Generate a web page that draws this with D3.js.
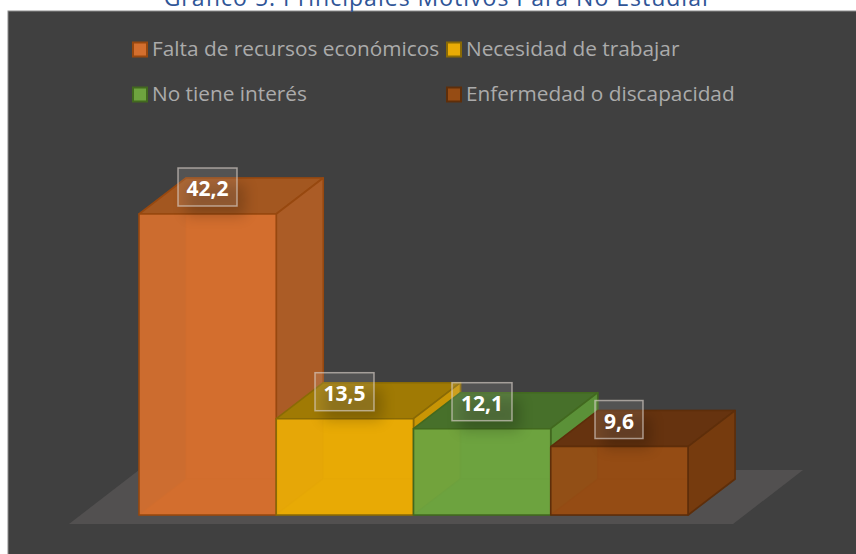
<!DOCTYPE html>
<html><head><meta charset="utf-8">
<script src="https://cdn.jsdelivr.net/npm/d3@7"></script>
<style>html,body{margin:0;padding:0;background:#fff;overflow:hidden}svg{display:block}</style>
</head><body><svg id="c" width="856" height="554"></svg>
<script>
const titleText = "Gráfico 5: Principales Motivos Para No Estudiar";
const categories = ["Falta de recursos económicos","Necesidad de trabajar","No tiene interés","Enfermedad o discapacidad"];
const values = [42.2,13.5,12.1,9.6];
const labels = ["42,2","13,5","12,1","9,6"];
const fills = ["#d46f2e","#e9ab05","#6ea33f","#964c14"];
const strokes = ["#97480f","#8a6a05","#42691f","#5e2e0a"];
const tops = ["#a35720","#a07a04","#47702a","#66330f"];
const sides = ["#ab5c26","#c89505","#5b9138","#763b0e"];

const svg = d3.select("#c");
const x = d3.scaleBand().domain(categories).range([139,688]).padding(0);
const y = d3.scaleLinear().domain([0,42.2]).range([515,214]);
const dx = 47, dy = -36;
const line = d3.line();

svg.append("rect").attr("x",8).attr("y",11).attr("width",860).attr("height",560)
  .attr("fill","#404040").attr("stroke","#8c8c8c").attr("stroke-width",1);
svg.append("text").attr("x",438).attr("y",6).attr("text-anchor","middle")
  .attr("font-family","'Open Sans'").attr("font-size",23).attr("letter-spacing",1).attr("fill","#2f5597").text(titleText);

const defs = svg.append("defs");
defs.append("filter").attr("id","blur").attr("x","-40%").attr("y","-40%").attr("width","180%").attr("height","180%")
  .append("feGaussianBlur").attr("stdDeviation",7);

// floor, from the plot extents
const fl=x.range()[0]-70, fr=x.range()[1]+45, fy=y(0)+9;
svg.append("path").attr("d",line([[fl,fy],[fr,fy],[fr+70,fy-54],[fl+70,fy-54]])+"Z").attr("fill","#525050");

const boxW=[59,59,60,48], cxs=[207.5,344.5,482,619];

categories.forEach((c,i)=>{
  const g = svg.append("g");
  const l=x(c), r=l+x.bandwidth(), t=y(values[i]), b=y(0);
  const P=(pts,fill,op,sop)=>g.append("path").attr("d",line(pts)+"Z").attr("fill",fill).attr("fill-opacity",op)
     .attr("stroke",strokes[i]).attr("stroke-opacity",sop).attr("stroke-width",1.6).attr("stroke-linejoin","round");
  P([[l+dx,t+dy],[r+dx,t+dy],[r+dx,b+dy],[l+dx,b+dy]],fills[i],0.85,0.5);   // back
  P([[l,b],[r,b],[r+dx,b+dy],[l+dx,b+dy]],fills[i],0.9,0.5);                 // bottom
  P([[l,t],[r,t],[r+dx,t+dy],[l+dx,t+dy]],tops[i],1,1);                      // top
  P([[r,t],[r+dx,t+dy],[r+dx,b+dy],[r,b]],sides[i],1,1);                     // side
  P([[l,t],[r,t],[r,b],[l,b]],fills[i],0.95,1);                              // front
  // soft shadow of the value label, confined to the top and front faces
  const id="clip"+i;
  defs.append("clipPath").attr("id",id).append("path")
    .attr("d",line([[l+dx,t+dy],[r+dx,t+dy],[r,t],[r,b],[l,b],[l,t]])+"Z");
  g.append("g").attr("clip-path",`url(#${id})`).append("rect")
    .attr("x",cxs[i]-boxW[i]/2+8).attr("y",t-30).attr("width",boxW[i]).attr("height",32)
    .attr("fill","#000").attr("opacity",0.2).attr("filter","url(#blur)");
});

// legend
const legX=[133,447,133,447], legY=[49,49,94,94];
categories.forEach((c,i)=>{
  svg.append("rect").attr("x",legX[i]).attr("y",legY[i]-6.5).attr("width",14).attr("height",14)
    .attr("fill",fills[i]).attr("stroke",strokes[i]).attr("stroke-width",2);
  svg.append("text").attr("x",legX[i]+19).attr("y",legY[i]+7)
    .attr("font-family","'Open Sans'").attr("font-size",20.8).attr("fill","#ababab").text(c);
});

// data labels
categories.forEach((c,i)=>{
  const t=y(values[i]);
  svg.append("rect").attr("x",cxs[i]-boxW[i]/2).attr("y",t-46).attr("width",boxW[i]).attr("height",38)
    .attr("fill","#fff").attr("fill-opacity",0.1).attr("stroke","#d8d0c8").attr("stroke-opacity",0.65).attr("stroke-width",1.5);
  svg.append("text").attr("x",cxs[i]).attr("y",t-18).attr("text-anchor","middle")
    .attr("font-family","'Open Sans'").attr("font-weight",700).attr("font-size",21).attr("fill","#fff").text(labels[i]);
});
</script></body></html>
